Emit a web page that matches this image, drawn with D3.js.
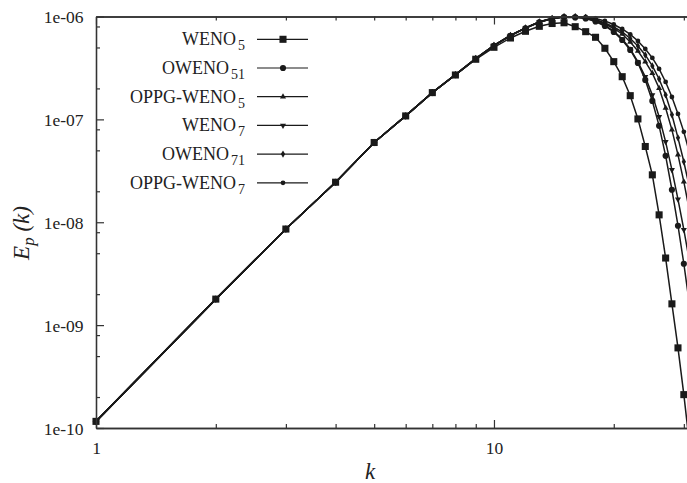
<!DOCTYPE html>
<html>
<head>
<meta charset="utf-8">
<script src="https://cdnjs.cloudflare.com/ajax/libs/d3/7.8.5/d3.min.js"></script>
<style>
body { margin: 0; background: #fff; }
svg { display: block; font-family: 'Liberation Serif', 'Times New Roman', serif; }
</style>
</head>
<body>
<div id="chart"></div>
<script>
// wavenumbers k
var wavenumbers = [1, 2, 3, 4, 5, 6, 7, 8, 9, 10, 11, 12, 13, 14, 15, 16,
    17, 18, 19, 20, 21, 22, 23, 24, 25, 26, 27, 28, 29, 30, 31];

// energy spectra, one array per scheme
var weno5 = [1.16e-10, 1.79e-9, 8.59e-9, 2.45e-8, 5.96e-8, 1.08e-7, 1.82e-7, 2.70e-7, 3.84e-7,
    5.02e-7, 6.18e-7, 7.18e-7, 8.03e-7, 8.55e-7, 8.69e-7, 7.96e-7,
    7.12e-7, 6.28e-7, 4.91e-7, 3.64e-7, 2.60e-7, 1.70e-7, 1.01e-7, 5.45e-8, 2.89e-8,
    1.18e-8, 4.49e-9, 1.61e-9, 6.01e-10, 2.11e-10, 6.9e-11];
var oweno51 = [1.16e-10, 1.79e-9, 8.59e-9, 2.45e-8, 5.96e-8, 1.08e-7, 1.82e-7, 2.71e-7, 3.88e-7,
    5.20e-7, 6.50e-7, 7.68e-7, 8.78e-7, 9.50e-7, 9.85e-7, 9.80e-7,
    9.56e-7, 8.94e-7, 8.09e-7, 7.07e-7, 5.91e-7, 4.73e-7, 3.54e-7, 2.42e-7, 1.51e-7,
    8.65e-8, 4.42e-8, 2.07e-8, 9.25e-9, 3.95e-9, 1.58e-9];
var oppgWeno5 = [1.16e-10, 1.79e-9, 8.59e-9, 2.45e-8, 5.96e-8, 1.08e-7, 1.82e-7, 2.72e-7, 3.90e-7,
    5.24e-7, 6.55e-7, 7.75e-7, 8.86e-7, 9.58e-7, 9.92e-7, 9.95e-7,
    9.78e-7, 9.25e-7, 8.46e-7, 7.65e-7, 6.76e-7, 5.65e-7, 4.62e-7, 3.64e-7, 2.81e-7,
    2.01e-7, 1.29e-7, 7.91e-8, 4.52e-8, 2.47e-8, 1.29e-8];
var weno7 = [1.16e-10, 1.79e-9, 8.59e-9, 2.45e-8, 5.96e-8, 1.08e-7, 1.82e-7, 2.71e-7, 3.88e-7,
    5.22e-7, 6.53e-7, 7.72e-7, 8.84e-7, 9.56e-7, 9.90e-7, 9.88e-7,
    9.67e-7, 9.04e-7, 8.18e-7, 7.23e-7, 6.05e-7, 4.84e-7, 3.62e-7, 2.59e-7, 1.73e-7,
    1.06e-7, 6.05e-8, 3.23e-8, 1.67e-8, 8.46e-9, 4.14e-9];
var oweno71 = [1.16e-10, 1.79e-9, 8.59e-9, 2.45e-8, 5.96e-8, 1.08e-7, 1.82e-7, 2.72e-7, 3.90e-7,
    5.23e-7, 6.54e-7, 7.74e-7, 8.86e-7, 9.58e-7, 9.93e-7, 9.96e-7,
    9.78e-7, 9.35e-7, 8.65e-7, 7.91e-7, 7.07e-7, 6.12e-7, 5.17e-7, 4.23e-7, 3.31e-7,
    2.47e-7, 1.73e-7, 1.11e-7, 6.61e-8, 3.87e-8, 2.16e-8];
var oppgWeno7 = [1.16e-10, 1.79e-9, 8.59e-9, 2.45e-8, 5.96e-8, 1.08e-7, 1.82e-7, 2.72e-7, 3.91e-7,
    5.25e-7, 6.56e-7, 7.76e-7, 8.88e-7, 9.60e-7, 9.94e-7, 9.97e-7,
    9.90e-7, 9.56e-7, 9.04e-7, 8.36e-7, 7.56e-7, 6.69e-7, 5.78e-7, 4.84e-7, 3.96e-7,
    3.09e-7, 2.31e-7, 1.65e-7, 1.13e-7, 7.56e-8, 4.73e-8];

// legend text: base name + subscript
var seriesNames = ['WENO', 'OWENO', 'OPPG-WENO', 'WENO', 'OWENO', 'OPPG-WENO'];
var seriesSubs = ['5', '51', '5', '7', '71', '7'];

// ticks
var xMajorTicks = [1, 10];
var xTickLabels = ['1', '10'];
var xMinorTicks = [2, 3, 4, 5, 6, 7, 8, 9, 20, 30];
var yMajorTicks = [1e-10, 1e-9, 1e-8, 1e-7, 1e-6];
var yTickLabels = ['1e-10', '1e-09', '1e-08', '1e-07', '1e-06'];
var yMinorTicks = [2e-10, 5e-10, 8e-10, 2e-9, 5e-9, 8e-9, 2e-8, 5e-8, 8e-8, 2e-7, 5e-7, 8e-7];

var width = 687;
var height = 483;
var plotLeft = 96, plotTop = 16.5, plotRight = 695, plotBottom = 428;
var ink = '#1a1a1a';

var svg = d3.select('#chart')
    .append('svg')
    .attr('width', width)
    .attr('height', height);

svg.append('rect')
    .attr('width', width)
    .attr('height', height)
    .style('fill', '#fff');

var x = d3.scaleLog().domain([1, 32]).range([plotLeft, plotRight]);
var y = d3.scaleLog().domain([1e-10, 1e-6]).range([plotBottom, plotTop]);

//symbols for each scheme
var markers = [
    {shape: d3.symbolSquare, size: 50, rot: 0},
    {shape: d3.symbolCircle, size: 30, rot: 0},
    {shape: d3.symbolTriangle, size: 16, rot: 0},
    {shape: d3.symbolTriangle, size: 16, rot: 180},
    {shape: d3.symbolDiamond, size: 16, rot: 0},
    {shape: d3.symbolCircle, size: 18, rot: 0}
];
var seriesValues = [weno5, oweno51, oppgWeno5, weno7, oweno71, oppgWeno7];

svg.append('clipPath')
    .attr('id', 'plot-clip')
    .append('rect')
    .attr('x', plotLeft)
    .attr('y', plotTop)
    .attr('width', plotRight - plotLeft)
    .attr('height', plotBottom - plotTop);

var line = d3.line()
    .x(function(d){ return x(d.k); })
    .y(function(d){ return y(d.e); });

function drawSeries(i){
    var pts = wavenumbers.map(function(k, j){ return {k: k, e: seriesValues[i][j]}; });
    var g = svg.append('g').attr('class', 'series-' + i);
    g.append('path')
        .datum(pts)
        .attr('d', line)
        .attr('clip-path', 'url(#plot-clip)')
        .style('fill', 'none')
        .style('stroke', ink)
        .style('stroke-width', 1.5);
    var sym = d3.symbol().type(markers[i].shape).size(markers[i].size);
    g.selectAll('path.pt')
        .data(pts.filter(function(d){ return y(d.e) <= plotBottom + 1 && x(d.k) <= width; }))
        .enter()
        .append('path')
        .attr('class', 'pt')
        .attr('d', sym)
        .attr('transform', function(d){
            return 'translate(' + x(d.k) + ',' + y(d.e) + ') rotate(' + markers[i].rot + ')';
        })
        .style('fill', ink);
}

// draw WENO5 last so its squares sit on top
[5, 4, 3, 2, 1, 0].forEach(drawSeries);

// axes
function styleAxis(g){
    g.select('.domain').style('stroke', '#333').style('stroke-width', 1.3);
    g.selectAll('.tick line').style('stroke', '#333').style('stroke-width', 1.2);
    g.selectAll('.tick text')
        .style('font-family', "'Liberation Serif', serif")
        .style('font-size', '17.5px')
        .style('fill', '#222');
}

var xMajor = svg.append('g')
    .attr('transform', 'translate(0,' + plotBottom + ')')
    .call(d3.axisBottom(x).tickValues(xMajorTicks).tickSize(-8).tickSizeOuter(0)
        .tickFormat(function(d, i){ return xTickLabels[i]; }));
xMajor.selectAll('.tick text').attr('y', 26).attr('dy', 0);
styleAxis(xMajor);

var xMinor = svg.append('g')
    .attr('transform', 'translate(0,' + plotBottom + ')')
    .call(d3.axisBottom(x).tickValues(xMinorTicks).tickSize(-4).tickSizeOuter(0).tickFormat(''));
styleAxis(xMinor);

var xTop = svg.append('g')
    .attr('transform', 'translate(0,' + plotTop + ')')
    .call(d3.axisTop(x).tickValues(xMajorTicks).tickSize(-8).tickSizeOuter(0).tickFormat(''));
styleAxis(xTop);

var xTopMinor = svg.append('g')
    .attr('transform', 'translate(0,' + plotTop + ')')
    .call(d3.axisTop(x).tickValues(xMinorTicks).tickSize(-4).tickSizeOuter(0).tickFormat(''));
styleAxis(xTopMinor);

var yMajor = svg.append('g')
    .attr('transform', 'translate(' + plotLeft + ',0)')
    .call(d3.axisLeft(y).tickValues(yMajorTicks).tickSize(-8).tickSizeOuter(0)
        .tickFormat(function(d, i){ return yTickLabels[i]; }));
yMajor.selectAll('.tick text').attr('x', -12.5).attr('dy', '0.36em');
styleAxis(yMajor);

var yMinor = svg.append('g')
    .attr('transform', 'translate(' + plotLeft + ',0)')
    .call(d3.axisLeft(y).tickValues(yMinorTicks).tickSize(-4).tickSizeOuter(0).tickFormat(''));
styleAxis(yMinor);

// axis titles
svg.append('text')
    .attr('x', 370)
    .attr('y', 479)
    .attr('text-anchor', 'middle')
    .style('font-size', '23px')
    .style('font-style', 'italic')
    .style('fill', '#222')
    .text('k');

var yTitle = svg.append('text')
    .attr('transform', 'translate(29,233) rotate(-90)')
    .attr('text-anchor', 'middle')
    .style('font-size', '23px')
    .style('font-style', 'italic')
    .style('fill', '#222');
yTitle.append('tspan').text('E');
yTitle.append('tspan').attr('dy', 5).style('font-size', '17px').text('p');
yTitle.append('tspan').attr('dy', -5).text(' (k)');

// legend
var legend = svg.append('g').attr('class', 'legend');
var rowY0 = 39.3, rowStep = 28.7;
seriesNames.forEach(function(name, i){
    var ry = rowY0 + i * rowStep;
    var t = legend.append('text')
        .attr('x', 245)
        .attr('y', ry + 6)
        .attr('text-anchor', 'end')
        .style('font-size', '18px')
        .style('fill', '#222');
    t.append('tspan').text(name);
    t.append('tspan').attr('dx', 2).attr('dy', 5).style('font-size', '14px').text(seriesSubs[i]);

    legend.append('line')
        .attr('x1', 257).attr('x2', 308)
        .attr('y1', ry).attr('y2', ry)
        .style('stroke', ink)
        .style('stroke-width', 1.2);
    legend.append('path')
        .attr('d', d3.symbol().type(markers[i].shape).size(markers[i].size))
        .attr('transform', 'translate(283,' + ry + ') rotate(' + markers[i].rot + ')')
        .style('fill', ink);
});
</script>
</body>
</html>
